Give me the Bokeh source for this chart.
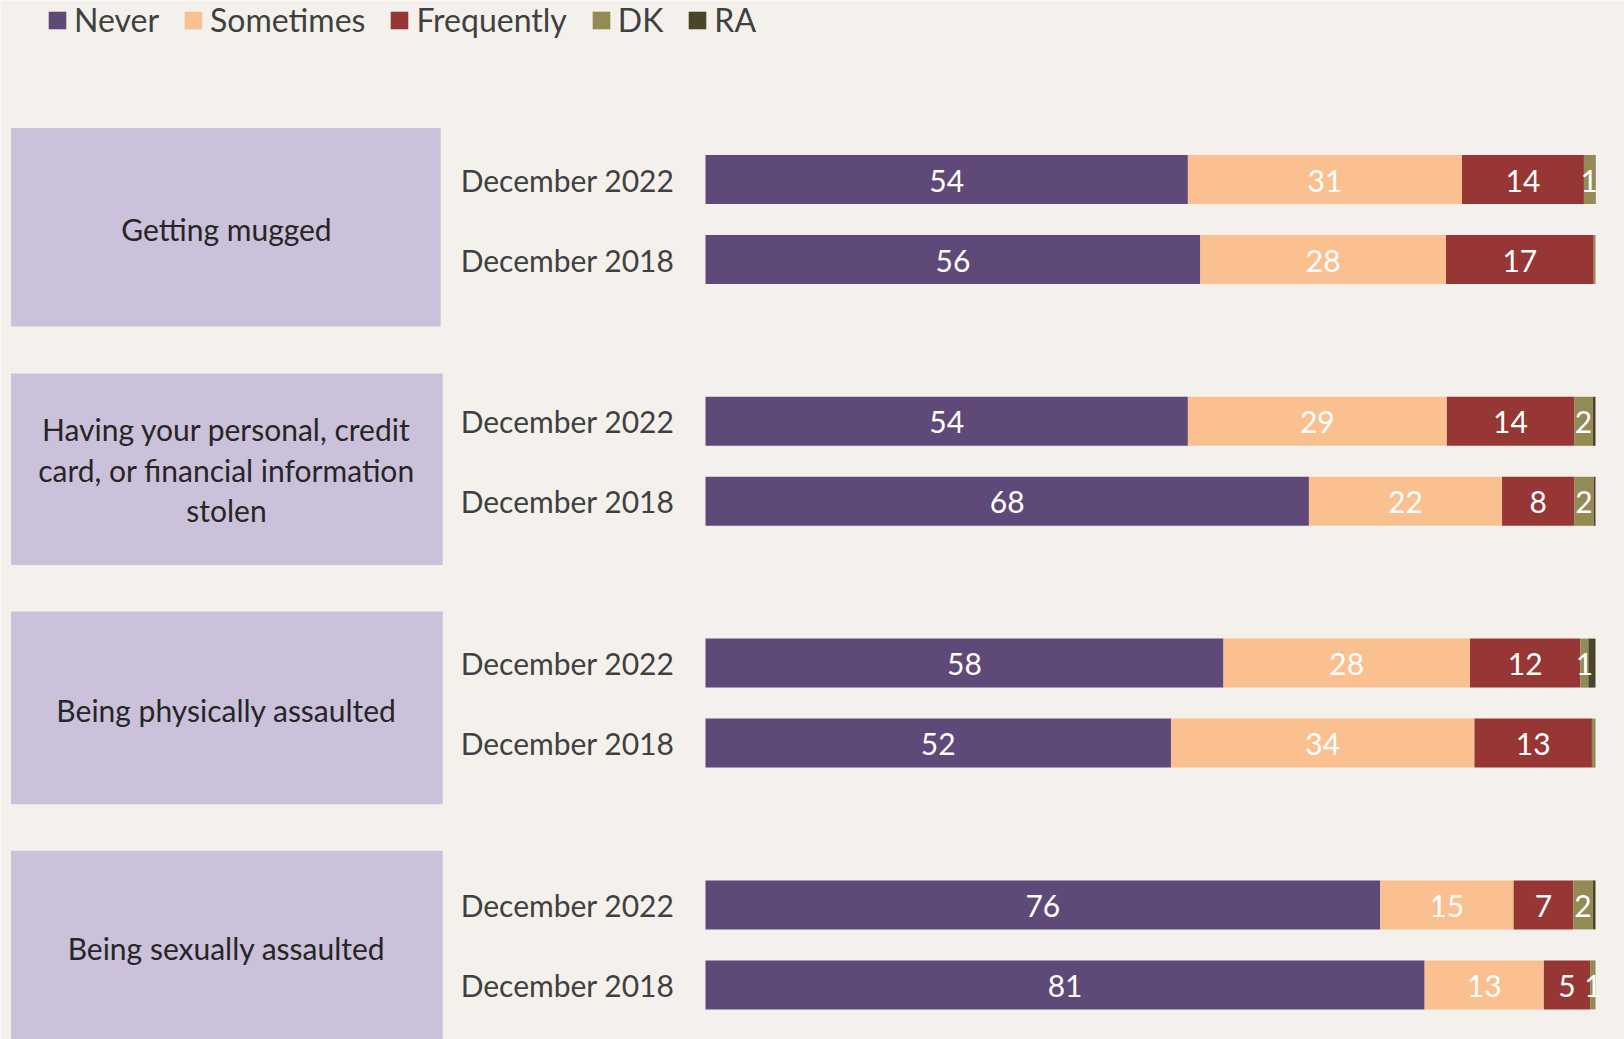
from bokeh.plotting import figure
from bokeh.models import Range1d, ColumnDataSource, Legend, LegendItem
from bokeh.core.properties import value
from bokeh.embed import file_html
from bokeh.resources import INLINE

# ---------------- data ----------------
topics = [
    "Getting mugged",
    "Having your personal, credit\ncard, or financial information\nstolen",
    "Being physically assaulted",
    "Being sexually assaulted",
]
waves = ["December 2022", "December 2018"]
categories = ["Never", "Sometimes", "Frequently", "DK", "RA"]

# rows: topic x wave (2022 first, then 2018)
never      = [54.2, 55.6, 54.2, 67.8, 58.2, 52.3, 75.8, 80.8]
sometimes  = [30.8, 27.6, 29.1, 21.7, 27.7, 34.1, 15.0, 13.4]
frequently = [13.7, 16.6, 14.3,  8.1, 12.4, 13.2,  6.7,  5.2]
dk         = [ 1.2,  0.2,  2.1,  2.2,  0.9,  0.4,  2.2,  0.6]
ra         = [ 0.1,  0.0,  0.3,  0.2,  0.8,  0.0,  0.3,  0.0]

series = [never, sometimes, frequently, dk, ra]
colors = ["#5F4979", "#FAC090", "#963735", "#948A54", "#4A452A"]

# ---------------- layout ----------------
W, H = 1624, 1039
PX0 = 705.0          # pixel where 0 % sits
PPU = 8.9            # pixels per percent
def px(x):
    return (x - PX0) / PPU

FONT_NAME = "Lato"
FONT = value(FONT_NAME)
FS = "30px"
BG = "#F4F1EC"

G0, GAP, OFF = 219.0, 241.8, 40.0
row_y = []
for g in range(len(topics)):
    for w in range(len(waves)):
        row_y.append(G0 + g * GAP + (OFF if w else -OFF))

box_top_off = [-91.6, -87.9, -91.6, -94.1]
box_bot_off = [107.0, 103.7, 101.1, 103.0]
box_right = [440.2, 442.2, 442.2, 442.2]
text_off = [9.0, 8.4, 7.0, 3.5]

p = figure(width=W, height=H, output_backend="svg", toolbar_location=None,
           x_range=Range1d(px(0), px(W)), y_range=Range1d(H, 0),
           min_border=0, background_fill_color=BG, border_fill_color=BG,
           outline_line_color=None)
p.axis.visible = False
p.grid.visible = False

# topic boxes
n = len(topics)
box_src = ColumnDataSource(dict(
    left=[px(10.5)] * n, right=[px(r) for r in box_right],
    top=[G0 + g * GAP + box_top_off[g] for g in range(n)],
    bottom=[G0 + g * GAP + box_bot_off[g] for g in range(n)],
    tx=[px(226)] * n,
    ty=[G0 + g * GAP + text_off[g] for g in range(n)],
    text=topics,
))
p.quad(left="left", right="right", top="top", bottom="bottom", source=box_src,
       fill_color="#CBC1DA", line_color=None)
p.text(x="tx", y="ty", text="text", source=box_src, text_font=FONT,
       text_font_size=FS, text_color="#262626", text_align="center",
       text_baseline="middle", text_line_height=1.12)

# wave labels
wave_src = ColumnDataSource(dict(
    x=[px(674)] * len(row_y), y=row_y,
    text=[waves[i % 2] for i in range(len(row_y))],
))
p.text(x="x", y="y", text="text", source=wave_src, text_font=FONT,
       text_font_size=FS, text_color="#404040", text_align="right",
       text_baseline="middle")

# stacked bars
left = [0.0] * len(row_y)
lab_x, lab_y, lab_t = [], [], []
items = []
for cat, vals, col in zip(categories, series, colors):
    right = [l + v for l, v in zip(left, vals)]
    r = p.hbar(y=row_y, left=left, right=right, height=49,
               fill_color=col, line_color=None)
    items.append(LegendItem(label=cat, renderers=[r]))
    if cat != "RA":
        for l, rr, v, y in zip(left, right, vals, row_y):
            if v >= 0.5:
                lab_x.append((l + rr) / 2)
                lab_y.append(y + 1)
                lab_t.append(f"{v:.0f}")
    left = right

lab_src = ColumnDataSource(dict(x=lab_x, y=lab_y, text=lab_t))
p.text(x="x", y="y", text="text", source=lab_src, text_font=FONT,
       text_font_size=FS, text_color="white", text_align="center",
       text_baseline="middle")

legend = Legend(items=items, orientation="horizontal", location=(46, 1000),
                glyph_width=22, glyph_height=22, label_standoff=6, spacing=23,
                padding=0, margin=0, label_text_font=FONT_NAME,
                label_text_font_size="32px", label_text_color="#404040",
                background_fill_alpha=0, border_line_alpha=0)
p.add_layout(legend, "center")

open("out.html", "w").write(file_html(p, INLINE))
